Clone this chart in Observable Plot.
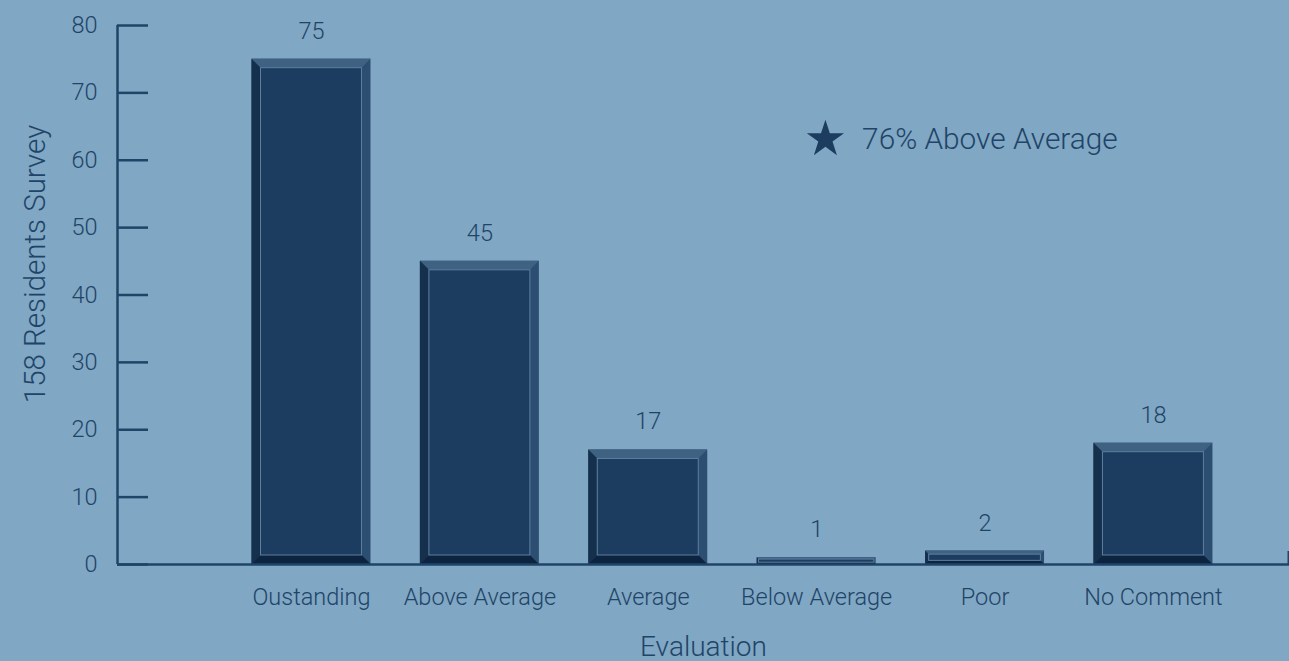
<!DOCTYPE html>
<html><head><meta charset="utf-8">
<script src="https://cdn.jsdelivr.net/npm/d3@7"></script>
<script src="https://cdn.jsdelivr.net/npm/@observablehq/plot@0.6"></script>
<style>
html,body{margin:0;padding:0;background:#80a7c3;overflow:hidden;}
#chart svg{display:block;}
#chart svg text{font-family:Roboto,"Liberation Sans",sans-serif;font-weight:300;}
</style></head><body><div id="chart"></div>
<script>
const categories = ["Oustanding","Above Average","Average","Below Average","Poor","No Comment"];
const counts = [75,45,17,1,2,18];
const yTicks = [0,10,20,30,40,50,60,70,80];
const annotationText = "76% Above Average";
const yTitle = "158 Residents Survey";
const xTitle = "Evaluation";

const W = 1289, H = 661, mL = 117, mR = 0, mT = 25, mB = 97;
const xDomain = [-1.152, 5.808];
const yDomain = [0, 80];
const pxX = (W - mL - mR) / (xDomain[1] - xDomain[0]);
const pxY = (H - mT - mB) / (yDomain[1] - yDomain[0]);
const half = 0.3533;
const ink = "#1f4468";

const bars = categories.map((c, i) => {
  const v = counts[i];
  const b = Math.min(9, v * pxY * 0.27);
  return {c, i, v, x1: i - half, x2: i + half, bx: b / pxX, by: b / pxY};
});
// bevel polygons derived from each bar
const topBevel = bars.flatMap(d => [
  {i: d.i, x: d.x1, y1: d.v, y2: d.v},
  {i: d.i, x: d.x1 + d.bx, y1: d.v - d.by, y2: d.v},
  {i: d.i, x: d.x2 - d.bx, y1: d.v - d.by, y2: d.v},
  {i: d.i, x: d.x2, y1: d.v, y2: d.v}
]);
const bottomBevel = bars.flatMap(d => [
  {i: d.i, x: d.x1, y1: 0, y2: 0},
  {i: d.i, x: d.x1 + d.bx, y1: 0, y2: d.by},
  {i: d.i, x: d.x2 - d.bx, y1: 0, y2: d.by},
  {i: d.i, x: d.x2, y1: 0, y2: 0}
]);
const leftBevel = bars.flatMap(d => [
  {i: d.i, y: 0, x1: d.x1, x2: d.x1},
  {i: d.i, y: d.by, x1: d.x1, x2: d.x1 + d.bx},
  {i: d.i, y: d.v - d.by, x1: d.x1, x2: d.x1 + d.bx},
  {i: d.i, y: d.v, x1: d.x1, x2: d.x1}
]);
const annot = [{x: 3.052, y: 63.11, text: annotationText}];

const chart = Plot.plot({
  width: W, height: H,
  marginLeft: mL, marginRight: mR, marginTop: mT, marginBottom: mB,
  style: {background: "#80a7c3", color: ink, overflow: "visible"},
  x: {domain: xDomain, axis: null},
  y: {domain: yDomain, axis: null},
  marks: [
    // bars with bevel
    Plot.rect(bars, {x1: "x1", x2: "x2", y1: d => 0, y2: "v", fill: "#2c4e70"}),
    Plot.areaY(topBevel, {x: "x", y1: "y1", y2: "y2", z: "i", fill: "#3f6283"}),
    Plot.areaX(leftBevel, {y: "y", x1: "x1", x2: "x2", z: "i", fill: "#15304d"}),
    Plot.areaY(bottomBevel, {x: "x", y1: "y1", y2: "y2", z: "i", fill: "#0d2440"}),
    Plot.rect(bars, {x1: d => d.x1 + d.bx, x2: d => d.x2 - d.bx, y1: d => d.by, y2: d => d.v - d.by,
      fill: "#1c3d60", stroke: "#5e7fa0", strokeWidth: 1}),
    // axes lines and ticks
    Plot.ruleY(yTicks, {y: d => d, insetRight: W - mL - mR - 31, stroke: ink, strokeWidth: 2.5}),
    Plot.ruleX([xDomain[0]], {x: d => d, stroke: ink, strokeWidth: 2.5}),
    Plot.ruleY([0], {y: d => d, stroke: ink, strokeWidth: 2.5}),
    Plot.ruleX([xDomain[1]], {x: d => d, insetTop: H - mT - mB - 13, dx: -1, stroke: ink, strokeWidth: 2}),
    Plot.axisY({ticks: yTicks, tickSize: 0, tickPadding: 20, fontSize: 23.5, label: null, color: ink}),
    Plot.axisX({ticks: d3.range(categories.length), tickFormat: i => categories[i], tickSize: 0, tickPadding: 24, fontSize: 23.5, label: null, color: ink}),
    // value labels
    Plot.text(bars, {x: "i", y: "v", text: d => String(d.v), dy: -28, fontSize: 23.5, fill: ink}),
    // annotation
    Plot.dot(annot, {x: "x", y: "y", symbol: "star", r: 11.7, fill: "#1c3d60", stroke: null}),
    Plot.text(annot, {x: "x", y: "y", text: "text", dx: 36.7, textAnchor: "start", fontSize: 29.8, fill: ink}),
    // titles
    Plot.text([xTitle], {text: d => d, frameAnchor: "bottom", lineAnchor: "middle", textAnchor: "middle", dy: 83, fontSize: 28, fill: ink}),
    Plot.text([yTitle], {text: d => d, frameAnchor: "left", lineAnchor: "middle", textAnchor: "middle", dx: -82, dy: -31, rotate: -90, fontSize: 29.5, fill: ink})
  ]
});
document.getElementById("chart").append(chart);
</script></body></html>
